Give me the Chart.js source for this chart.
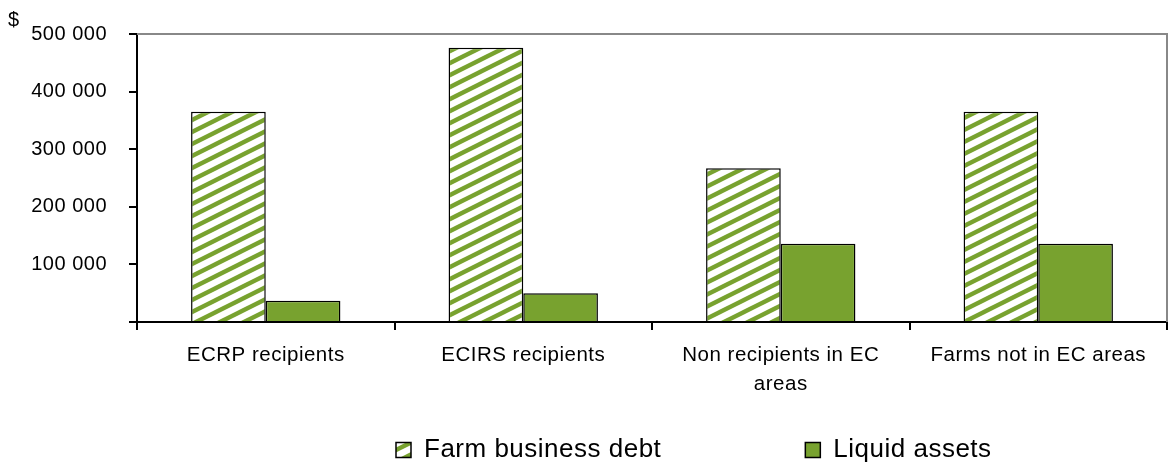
<!DOCTYPE html>
<html>
<head>
<meta charset="utf-8">
<script src="https://cdn.jsdelivr.net/npm/chart.js@4"></script>
<style>
  body { margin: 0; background: #fff; }
</style>
</head>
<body>
<canvas id="farmChart" width="1171" height="462"></canvas>
<script>
// categories on the x axis (third one wraps over two lines)
const categories = ['ECRP recipients', 'ECIRS recipients', ['Non recipients in EC', 'areas'], 'Farms not in EC areas'];
const farmDebt = [365000, 476000, 267000, 365000];
const liquidAssets = [37000, 50000, 136000, 136000];
const yTicks = [0, 100000, 200000, 300000, 400000, 500000];

const green = '#78a22f';

// diagonal white/green stripes for the debt bars
function makeHatch(ctx, color) {
    const tile = document.createElement('canvas');
    tile.width = 24;
    tile.height = 12;
    const g = tile.getContext('2d');
    g.fillStyle = '#fff';
    g.fillRect(0, 0, 24, 12);
    g.strokeStyle = color;
    g.lineWidth = 4.4;
    for (let k = -1; k <= 2; k++) {
        g.beginPath();
        g.moveTo(-24, k * 12 + 12);
        g.lineTo(48, k * 12 - 24);
        g.stroke();
    }
    return ctx.createPattern(tile, 'repeat');
}

function fmt(v) {
    if (v === 0) return '';
    return v.toLocaleString('en-US').replace(/,/g, ' ');
}

// slightly spaced text, grey frame on top/right, "$" unit label, legend placement
const extras = {
    id: 'extras',
    beforeUpdate(chart) { chart.ctx.letterSpacing = '0.5px'; },
    beforeDraw(chart) { chart.ctx.letterSpacing = '0.5px'; },
    afterLayout(chart) {
        const lg = chart.legend;
        const pad = lg.options.labels.padding;
        lg.left = 396 - pad;
        lg.right = chart.width;
        lg.top = 437 - pad;
    },
    beforeDatasetsDraw(chart) {
        const {ctx, chartArea: a} = chart;
        ctx.save();
        ctx.strokeStyle = '#888';
        ctx.lineWidth = 2;
        ctx.beginPath();
        ctx.moveTo(a.left, a.top);
        ctx.lineTo(a.right, a.top);
        ctx.lineTo(a.right, a.bottom);
        ctx.stroke();
        ctx.restore();
    },
    afterDraw(chart) {
        const ctx = chart.ctx;
        ctx.save();
        ctx.fillStyle = '#000';
        ctx.font = "20px 'Liberation Sans', Arial, sans-serif";
        ctx.textBaseline = 'middle';
        ctx.fillText('$', 8, 20);
        ctx.restore();
    }
};

Chart.defaults.font.family = "'Liberation Sans', Arial, sans-serif";
Chart.defaults.color = '#000';

const ctx = document.getElementById('farmChart').getContext('2d');
const myBarChart = new Chart(ctx, {
    type: 'bar',
    data: {
        labels: categories,
        datasets: [
            {
                label: 'Farm business debt',
                data: farmDebt,
                backgroundColor: makeHatch(ctx, green),
                borderColor: '#000',
                borderWidth: 1.5
            },
            {
                label: 'Liquid assets',
                data: liquidAssets,
                backgroundColor: green,
                borderColor: '#000',
                borderWidth: 1.5
            }
        ]
    },
    options: {
        responsive: false,
        animation: false,
        layout: { padding: { top: 31, right: 4, left: 0, bottom: 0 } },
        datasets: {
            bar: { categoryPercentage: 0.58, barPercentage: 1 }
        },
        scales: {
            x: {
                grid: { offset: true, drawOnChartArea: false, tickLength: 8, color: '#000', lineWidth: 2 },
                border: { color: '#000', width: 2 },
                ticks: { font: { size: 20.5, lineHeight: 1.4 }, padding: 11, maxRotation: 0, autoSkip: false },
                afterFit(scale) { scale.height = 100; }
            },
            y: {
                min: 0,
                max: 500000,
                afterBuildTicks(scale) { scale.ticks = yTicks.map(v => ({ value: v })); },
                grid: { drawOnChartArea: false, tickLength: 8, color: '#000', lineWidth: 2 },
                border: { color: '#000', width: 2 },
                ticks: { font: { size: 20 }, padding: 22, callback: v => fmt(v) },
                afterFit(scale) { scale.width = 137; }
            }
        },
        plugins: {
            tooltip: { enabled: false },
            legend: {
                position: 'bottom',
                align: 'start',
                maxHeight: 40,
                labels: { font: { size: 26 }, boxWidth: 15, boxHeight: 15, padding: 144 }
            }
        }
    },
    plugins: [extras]
});
</script>
</body>
</html>
